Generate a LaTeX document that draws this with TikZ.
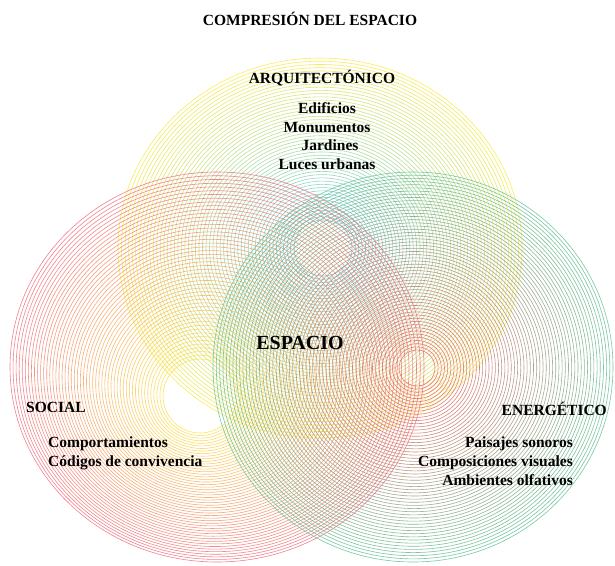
\documentclass[tikz,border=0pt]{standalone}
\usepackage{fontspec}
\setmainfont{Liberation Serif}
\definecolor{ylwout}{RGB}{250,234,70}
\definecolor{ylwin}{RGB}{96,204,230}
\definecolor{redout}{RGB}{242,116,130}
\definecolor{redin}{RGB}{252,226,80}
\definecolor{grnout}{RGB}{104,196,152}
\definecolor{grnin}{RGB}{242,104,98}
% ring blend: outer ellipse -> inner ellipse, colour fades from blendA to blendB
% #1 steps, #2/#3 outer centre, #4/#5 outer radii, #6/#7 inner centre, #8/#9 inner radii
\newcommand\ringblend[9]{%
  \foreach \i in {0,...,#1} {
    \pgfmathsetmacro\tt{\i/#1}
    \pgfmathsetmacro\cx{#2+(#6-#2)*\tt}
    \pgfmathsetmacro\cy{#3+(#7-#3)*\tt}
    \pgfmathsetmacro\rx{#4+(#8-#4)*\tt}
    \pgfmathsetmacro\ry{#5+(#9-#5)*\tt}
    \pgfmathsetmacro\pc{100*(1-\tt)}
    \draw[ring, draw=blendA!\pc!blendB] (\cx,\cy) ellipse [x radius=\rx pt, y radius=\ry pt];
  }}
\begin{document}
\begin{tikzpicture}[x=1pt,y=-1pt,
  ring/.style={line width=0.6pt, draw opacity=0.9},
  lbl/.style={font=\fontsize{15.5}{18.7}\selectfont\bfseries, inner sep=0pt},
  big/.style={font=\fontsize{20}{24}\selectfont\bfseries, inner sep=0pt}]
\useasboundingbox[fill=white] (0,0) rectangle (615,565);

% architectural set (top)
\colorlet{blendA}{ylwout}\colorlet{blendB}{ylwin}
\ringblend{50}{320}{248}{202}{190}{323}{248}{29}{28}
% social set (left)
\colorlet{blendA}{redout}\colorlet{blendB}{redin}
\ringblend{50}{217}{367}{207}{195}{200}{396}{37}{37}
% energetic set (right)
\colorlet{blendA}{grnout}\colorlet{blendB}{grnin}
\ringblend{56}{413}{367}{200}{195}{417}{368}{18}{18}

% title and labels
\node[lbl, anchor=base] (title) at (310,25) {COMPRESIÓN DEL ESPACIO};
\node[lbl, anchor=base] (arq) at (322,83) {ARQUITECTÓNICO};
\node[lbl, anchor=base] (arq1) at (327,113) {Edificios};
\node[lbl, anchor=base] (arq2) at (327,132) {Monumentos};
\node[lbl, anchor=base] (arq3) at (330,150) {Jardines};
\node[lbl, anchor=base] (arq4) at (327,169) {Luces urbanas};

\node[big, anchor=base] (esp) at (300,349) {ESPACIO};

\node[lbl, anchor=base west] (soc) at (26,412) {SOCIAL};
\node[lbl, anchor=base west] (soc1) at (48,447) {Comportamientos};
\node[lbl, anchor=base west] (soc2) at (48,466) {Códigos de convivencia};

\node[lbl, anchor=base east] (ene) at (607,415) {ENERGÉTICO};
\node[lbl, anchor=base east] (ene1) at (573,447) {Paisajes sonoros};
\node[lbl, anchor=base east] (ene2) at (573,466) {Composiciones visuales};
\node[lbl, anchor=base east] (ene3) at (573,485) {Ambientes olfativos};
\end{tikzpicture}
\end{document}
